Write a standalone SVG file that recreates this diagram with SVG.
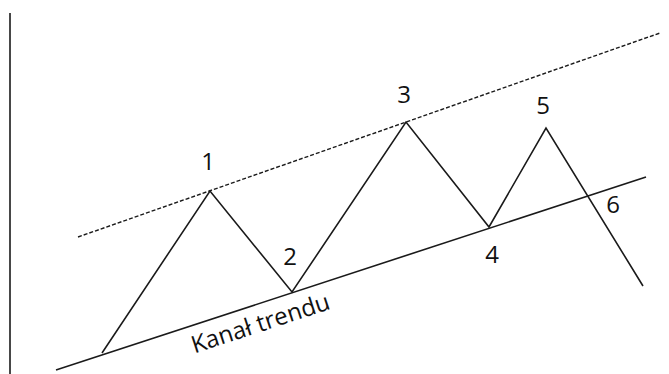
<svg xmlns="http://www.w3.org/2000/svg" width="669" height="374" viewBox="0 0 669 374">
<style>
.ln{stroke:#1a1a1a;stroke-width:1.6;fill:none}
.ds{stroke:#1a1a1a;stroke-width:1.4;fill:none;stroke-dasharray:4 2}
.lb{font-family:"Open Sans","DejaVu Sans",sans-serif;font-size:24px;fill:#111;text-anchor:middle}
</style>
<rect width="669" height="374" fill="#fff"/>
<g id="connectors">
<line class="ln" x1="10" y1="13" x2="10" y2="374" stroke-width="2"/>
<line class="ds" x1="78" y1="237" x2="660" y2="33"/>
<line class="ln" x1="56" y1="370" x2="646" y2="177"/>
<polyline class="ln" points="102,353 210,191 292,292 406,122 489,227 546,128 643,286"/>
</g>
<g id="labels">
<text class="lb" x="208" y="170">1</text>
<text class="lb" x="290" y="265">2</text>
<text class="lb" x="404" y="103">3</text>
<text class="lb" x="492" y="263">4</text>
<text class="lb" x="543" y="114">5</text>
<text class="lb" x="613" y="213">6</text>
<text class="lb" x="0" y="0" font-size="21.5" transform="translate(263,331) rotate(-18.1)">Kanał trendu</text>
</g>
</svg>
